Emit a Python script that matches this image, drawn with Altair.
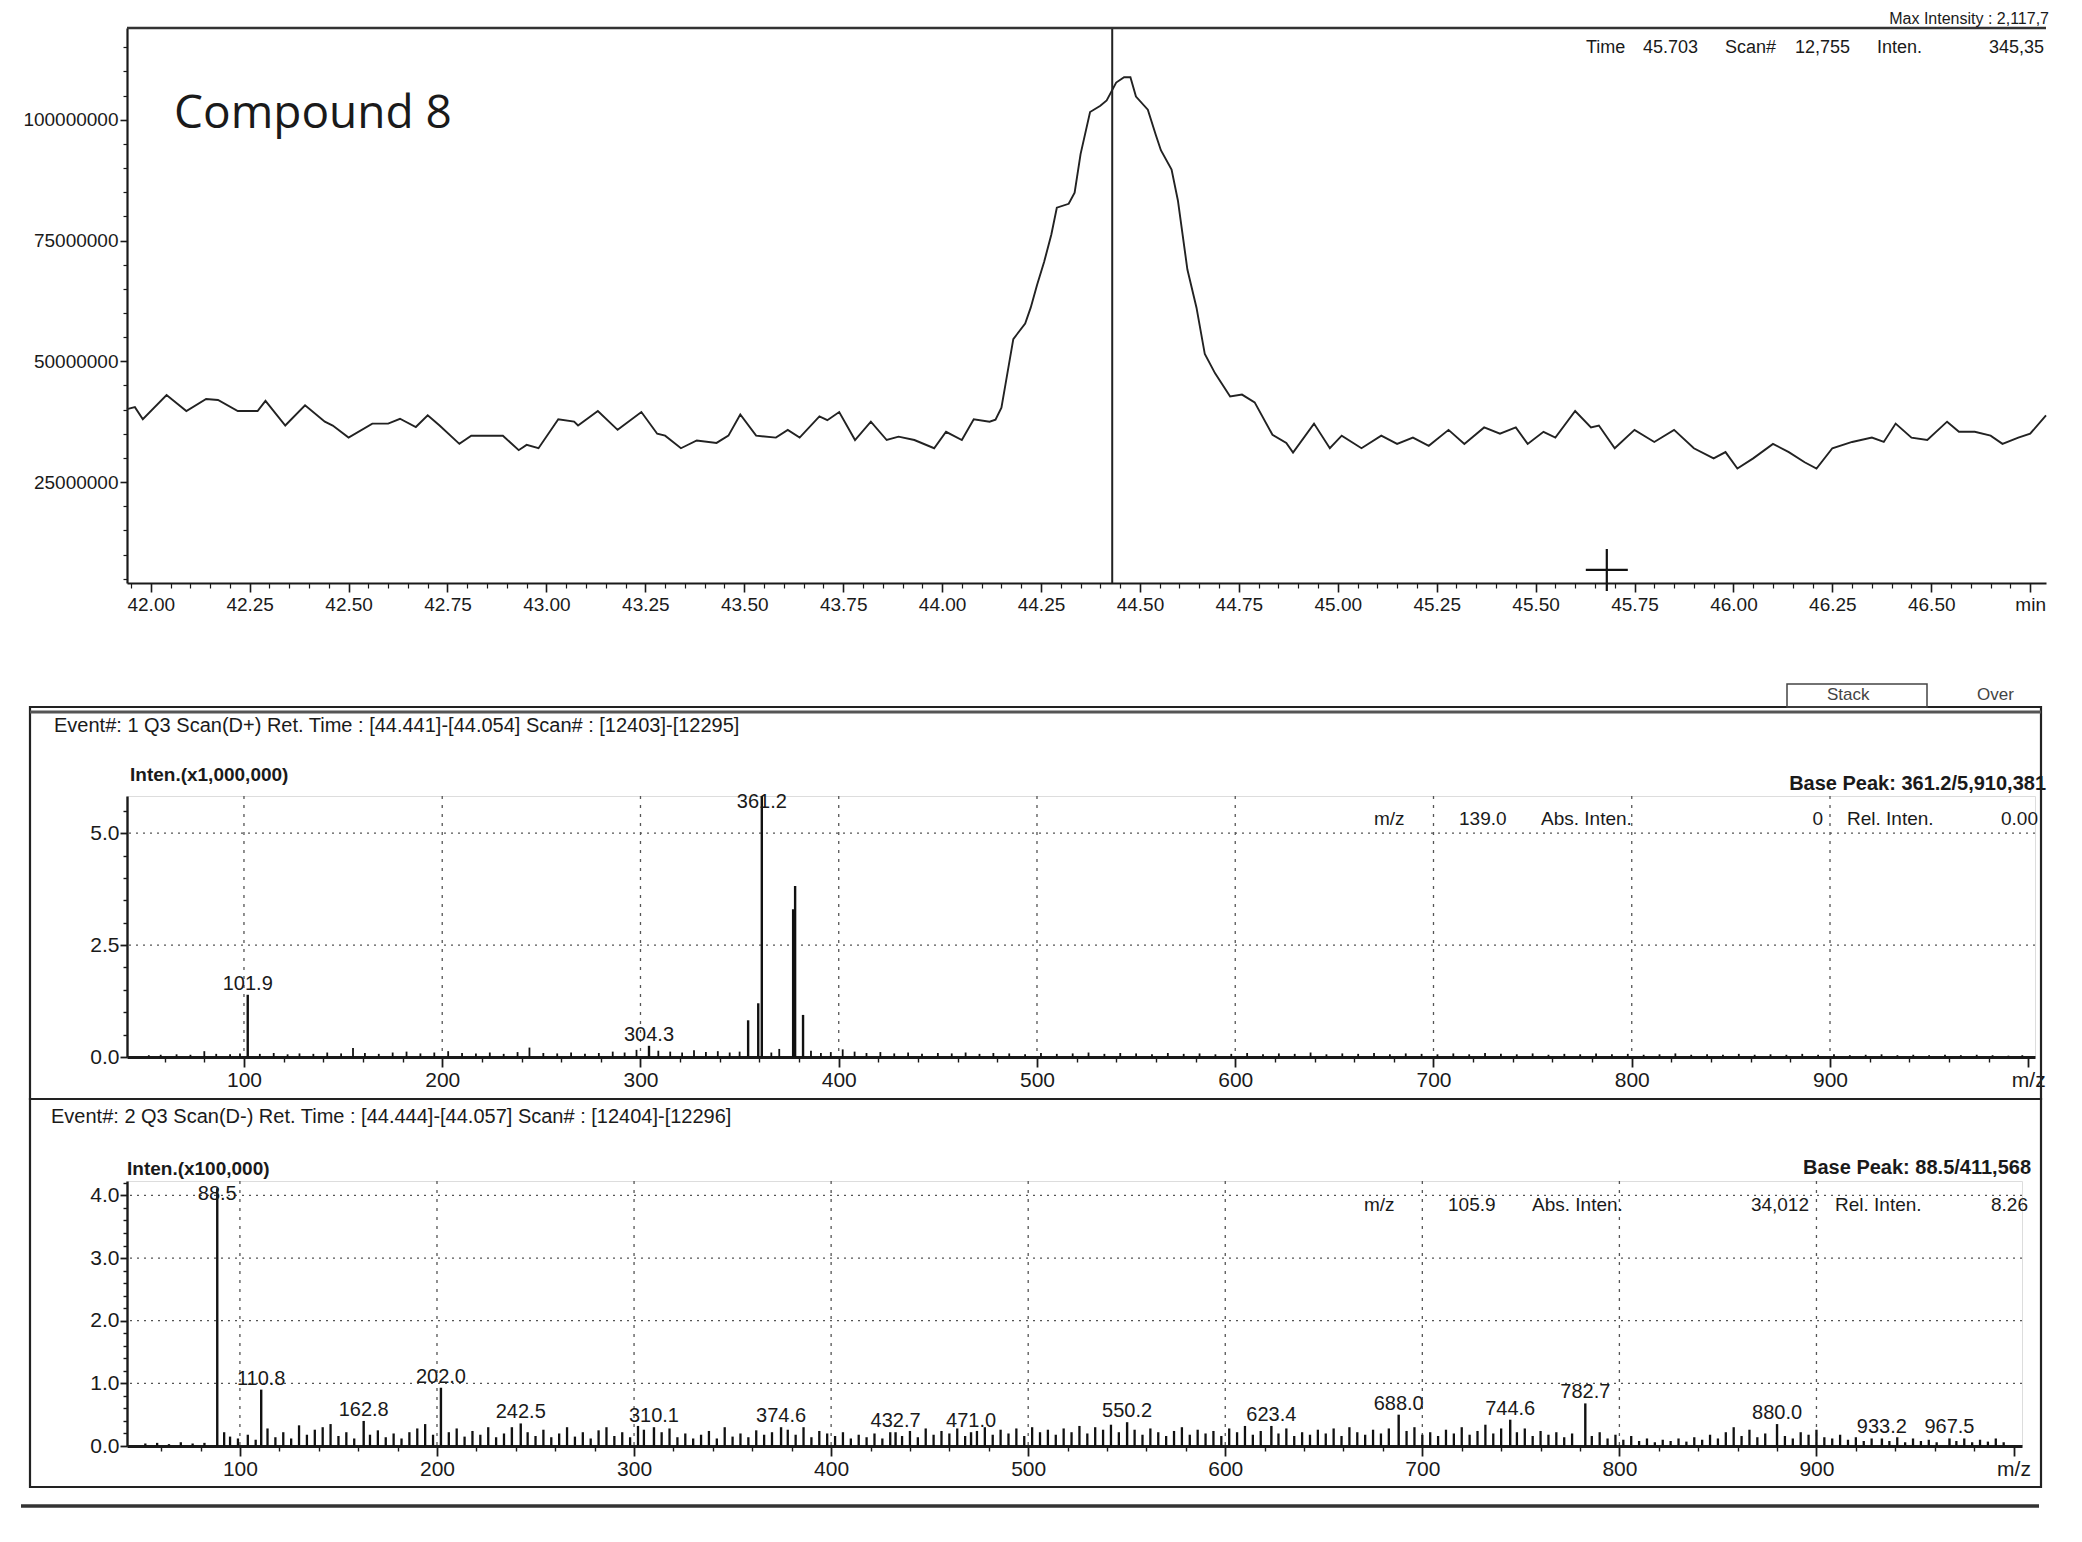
import altair as alt
import pandas as pd

FONT = "Liberation Sans"
INK = "#1a1a1a"

# ---------------- Panel 1: chromatogram ----------------
chrom_time = [41.94, 41.96, 41.98, 42.04, 42.09, 42.14, 42.17, 42.22, 42.27, 42.29, 42.34, 42.39, 42.44, 42.46,
              42.50, 42.56, 42.60, 42.63, 42.67, 42.70, 42.73, 42.78, 42.81, 42.89, 42.93, 42.95, 42.98, 43.03,
              43.07, 43.08, 43.13, 43.18, 43.24, 43.28, 43.30, 43.34, 43.38, 43.43, 43.46, 43.49, 43.53, 43.58,
              43.61, 43.64, 43.69, 43.71, 43.74, 43.78, 43.82, 43.86, 43.89, 43.93, 43.98, 44.01, 44.05, 44.08,
              44.12, 44.135, 44.15, 44.16, 44.18, 44.21, 44.224, 44.24, 44.258, 44.276, 44.29, 44.32, 44.335,
              44.35, 44.374, 44.40, 44.416, 44.44, 44.46, 44.476, 44.49, 44.52, 44.54, 44.553, 44.58, 44.596,
              44.62, 44.643, 44.664, 44.69, 44.728, 44.758, 44.79, 44.835, 44.87, 44.887, 44.94, 44.98, 45.01,
              45.06, 45.11, 45.15, 45.19, 45.23, 45.28, 45.32, 45.37, 45.41, 45.45, 45.48, 45.52, 45.55, 45.60,
              45.64, 45.66, 45.70, 45.75, 45.80, 45.85, 45.90, 45.95, 45.98, 46.01, 46.05, 46.10, 46.14, 46.18,
              46.21, 46.25, 46.30, 46.35, 46.38, 46.41, 46.45, 46.49, 46.54, 46.57, 46.61, 46.65, 46.68, 46.72,
              46.75, 46.79]
chrom_inten_m = [40.1, 40.5, 38.0, 43.0, 39.7, 42.2, 42.0, 39.7, 39.7, 41.8, 36.7, 40.9, 37.5, 36.7,
                 34.2, 37.1, 37.1, 38.1, 36.4, 38.8, 36.7, 32.9, 34.6, 34.6, 31.6, 32.7, 32.0, 38.0,
                 37.5, 36.7, 39.7, 35.8, 39.5, 35.0, 34.6, 32.0, 33.6, 33.1, 34.6, 39.0, 34.6, 34.2,
                 35.8, 34.2, 38.6, 37.8, 39.5, 33.7, 37.5, 33.7, 34.4, 33.7, 32.0, 35.4, 33.7, 38.0,
                 37.5, 37.9, 40.4, 45.1, 54.6, 57.8, 61.1, 65.8, 70.6, 76.2, 81.8, 82.6, 84.9,
                 92.9, 101.6, 102.9, 104.0, 107.7, 108.8, 108.8, 104.8, 102.1, 96.9, 93.7, 89.7, 83.3,
                 69.0, 61.1, 51.5, 47.5, 42.7, 43.1, 41.5, 34.8, 33.1, 31.1, 37.1, 32.0, 34.6,
                 32.0, 34.6, 32.9, 34.2, 32.5, 35.8, 32.9, 36.3, 35.0, 36.3, 32.9, 35.4, 34.2, 39.7,
                 36.3, 36.7, 32.0, 35.8, 33.3, 35.8, 32.0, 29.9, 31.2, 27.8, 29.9, 32.9, 31.2, 29.1,
                 27.8, 32.0, 33.3, 34.2, 33.3, 37.1, 34.2, 33.7, 37.5, 35.4, 35.4, 34.6, 32.9, 34.2,
                 35.0, 38.8]
chrom_xticks = [42.00, 42.25, 42.50, 42.75, 43.00, 43.25, 43.50, 43.75, 44.00, 44.25, 44.50, 44.75,
                45.00, 45.25, 45.50, 45.75, 46.00, 46.25, 46.50, 46.75]
chrom_yticks = [25000000, 50000000, 75000000, 100000000]
cursor_time = [44.43]
cross_time = [45.68]
cross_inten_m = [6.8]

# ---------------- Panel 2: Event 1, Q3 Scan (D+) ----------------
pos_peak_mz = [101.9, 304.3, 354.3, 359.4, 361.2, 377.0, 378.0, 382.0]
pos_peak_int = [1.39, 0.25, 0.82, 1.20, 5.91, 3.30, 3.82, 0.94]
pos_label_mz = [101.9, 304.3, 361.2]
pos_label_int = [1.39, 0.25, 5.91]
pos_label_txt = ["101.9", "304.3", "361.2"]
pos_noise = [(52, 0.04), (58, 0.05), (66, 0.06), (73, 0.05), (80, 0.13), (86, 0.07), (93, 0.06), (98, 0.08),
             (108, 0.07), (115, 0.09), (122, 0.06), (128, 0.08), (135, 0.07), (142, 0.10), (149, 0.08),
             (155, 0.20), (161, 0.09), (168, 0.07), (175, 0.10), (182, 0.12), (189, 0.08), (196, 0.10),
             (203, 0.13), (210, 0.09), (217, 0.08), (224, 0.10), (231, 0.07), (238, 0.11), (244, 0.21),
             (251, 0.09), (258, 0.08), (265, 0.10), (272, 0.07), (279, 0.09), (286, 0.12), (292, 0.10),
             (298, 0.16), (309, 0.14), (315, 0.12), (321, 0.10), (327, 0.15), (333, 0.11), (339, 0.13),
             (345, 0.10), (350, 0.12), (366, 0.10), (370, 0.18), (386, 0.14), (391, 0.09), (396, 0.11),
             (402, 0.17), (408, 0.12), (414, 0.09), (421, 0.11), (428, 0.08), (435, 0.10), (442, 0.07),
             (450, 0.09), (457, 0.08), (464, 0.10), (471, 0.07), (478, 0.09), (486, 0.08), (494, 0.06),
             (502, 0.09), (510, 0.07), (518, 0.08), (526, 0.10), (534, 0.07), (542, 0.09), (550, 0.08),
             (558, 0.06), (566, 0.09), (574, 0.07), (582, 0.08), (590, 0.06), (598, 0.07), (606, 0.09),
             (614, 0.06), (622, 0.08), (630, 0.07), (638, 0.10), (646, 0.06), (654, 0.08), (662, 0.07),
             (670, 0.09), (678, 0.06), (686, 0.08), (694, 0.07), (702, 0.06), (710, 0.08), (718, 0.06),
             (726, 0.09), (734, 0.07), (742, 0.06), (750, 0.08), (758, 0.05), (766, 0.07), (774, 0.06),
             (782, 0.08), (790, 0.06), (798, 0.07), (806, 0.05), (814, 0.06), (822, 0.08), (830, 0.05),
             (838, 0.06), (846, 0.05), (854, 0.07), (862, 0.05), (870, 0.06), (878, 0.05), (886, 0.07),
             (894, 0.05), (902, 0.06), (910, 0.04), (918, 0.05), (926, 0.06), (934, 0.04), (942, 0.05),
             (950, 0.04), (958, 0.05), (966, 0.04), (974, 0.05), (982, 0.04), (990, 0.03), (997, 0.04)]
pos_xticks = [100, 200, 300, 400, 500, 600, 700, 800, 900, 1000]
pos_yticks = [0.0, 2.5, 5.0]
pos_grid_x = [100, 200, 300, 400, 500, 600, 700, 800, 900]
pos_grid_y = [2.5, 5.0]

# ---------------- Panel 3: Event 2, Q3 Scan (D-) ----------------
neg_peak_mz = [88.5, 110.8, 162.8, 202.0, 238.0, 242.5, 310.1, 374.6, 432.7, 471.0, 550.2, 623.4,
               688.0, 744.6, 782.7, 880.0, 933.2, 967.5]
neg_peak_int = [4.116, 0.90, 0.40, 0.93, 0.30, 0.36, 0.30, 0.30, 0.22, 0.22, 0.38, 0.32,
                0.50, 0.42, 0.68, 0.35, 0.12, 0.12]
neg_label_mz = [88.5, 110.8, 162.8, 202.0, 242.5, 310.1, 374.6, 432.7, 471.0, 550.2, 623.4,
                688.0, 744.6, 782.7, 880.0, 933.2, 967.5]
neg_label_int = [4.116, 0.90, 0.40, 0.93, 0.36, 0.30, 0.30, 0.22, 0.22, 0.38, 0.32,
                 0.50, 0.42, 0.68, 0.35, 0.12, 0.12]
neg_label_txt = ["88.5", "110.8", "162.8", "202.0", "242.5", "310.1", "374.6", "432.7", "471.0",
                 "550.2", "623.4", "688.0", "744.6", "782.7", "880.0", "933.2", "967.5"]
neg_noise = [(52, 0.04), (58, 0.05), (64, 0.03), (70, 0.06), (76, 0.04), (82, 0.05), (92, 0.22), (95, 0.15),
             (99, 0.12), (104, 0.18), (108, 0.10), (114, 0.28), (118, 0.14), (122, 0.22), (126, 0.12),
             (130, 0.33), (134, 0.18), (138, 0.26), (142, 0.30), (146, 0.35), (150, 0.16), (154, 0.22),
             (158, 0.12), (166, 0.18), (170, 0.25), (174, 0.14), (178, 0.20), (182, 0.12), (186, 0.22),
             (190, 0.28), (194, 0.35), (198, 0.18), (206, 0.22), (210, 0.28), (214, 0.15), (218, 0.24),
             (222, 0.18), (226, 0.30), (230, 0.14), (234, 0.20), (246, 0.22), (250, 0.16), (254, 0.26),
             (258, 0.14), (262, 0.20), (266, 0.30), (270, 0.15), (274, 0.22), (278, 0.12), (282, 0.25),
             (286, 0.30), (290, 0.16), (294, 0.22), (298, 0.14), (302, 0.32), (305, 0.26), (314, 0.22),
             (318, 0.28), (322, 0.14), (326, 0.20), (330, 0.12), (334, 0.18), (338, 0.24), (342, 0.12),
             (346, 0.30), (350, 0.15), (354, 0.20), (358, 0.14), (362, 0.25), (366, 0.18), (370, 0.22),
             (378, 0.26), (382, 0.18), (386, 0.30), (390, 0.14), (394, 0.24), (398, 0.20), (402, 0.16),
             (406, 0.22), (410, 0.12), (414, 0.18), (418, 0.14), (422, 0.20), (426, 0.12), (430, 0.22),
             (436, 0.16), (440, 0.24), (444, 0.14), (448, 0.28), (452, 0.18), (456, 0.24), (460, 0.20),
             (464, 0.28), (468, 0.16), (474, 0.24), (478, 0.30), (482, 0.18), (486, 0.26), (490, 0.20),
             (494, 0.28), (498, 0.16), (502, 0.30), (506, 0.22), (510, 0.26), (514, 0.18), (518, 0.28),
             (522, 0.22), (526, 0.32), (530, 0.20), (534, 0.30), (538, 0.26), (542, 0.34), (546, 0.22),
             (554, 0.26), (558, 0.18), (562, 0.28), (566, 0.22), (570, 0.16), (574, 0.24), (578, 0.30),
             (582, 0.18), (586, 0.26), (590, 0.20), (594, 0.24), (598, 0.16), (602, 0.28), (606, 0.22),
             (610, 0.32), (614, 0.18), (618, 0.24), (627, 0.20), (631, 0.28), (635, 0.16), (639, 0.22),
             (643, 0.18), (647, 0.26), (651, 0.20), (655, 0.28), (659, 0.16), (663, 0.30), (667, 0.22),
             (671, 0.18), (675, 0.26), (679, 0.20), (683, 0.28), (692, 0.24), (696, 0.30), (700, 0.18),
             (704, 0.22), (708, 0.16), (712, 0.26), (716, 0.20), (720, 0.30), (724, 0.18), (728, 0.24),
             (732, 0.34), (736, 0.20), (740, 0.28), (748, 0.22), (752, 0.28), (756, 0.16), (760, 0.24),
             (764, 0.18), (768, 0.22), (772, 0.14), (776, 0.20), (786, 0.16), (790, 0.22), (794, 0.12),
             (798, 0.18), (802, 0.10), (806, 0.16), (810, 0.08), (814, 0.12), (818, 0.06), (822, 0.10),
             (826, 0.08), (830, 0.12), (834, 0.07), (838, 0.14), (842, 0.10), (846, 0.18), (850, 0.12),
             (854, 0.22), (858, 0.30), (862, 0.16), (866, 0.26), (870, 0.14), (874, 0.20), (884, 0.16),
             (888, 0.12), (892, 0.22), (896, 0.18), (900, 0.26), (904, 0.14), (908, 0.12), (912, 0.18),
             (916, 0.10), (920, 0.14), (924, 0.08), (928, 0.12), (937, 0.08), (941, 0.14), (945, 0.06),
             (949, 0.12), (953, 0.08), (957, 0.10), (961, 0.06), (971, 0.08), (975, 0.12), (979, 0.06),
             (983, 0.10), (987, 0.07), (991, 0.12), (995, 0.06)]
neg_xticks = [100, 200, 300, 400, 500, 600, 700, 800, 900, 1000]
neg_yticks = [0.0, 1.0, 2.0, 3.0, 4.0]
neg_grid_x = [100, 200, 300, 400, 500, 600, 700, 800, 900]
neg_grid_y = [1.0, 2.0, 3.0, 4.0]

# ---------------- helpers ----------------
ONE = pd.DataFrame({"k": [0]})


def txt(s, x, y, size=20, align="left", baseline="middle", weight="normal", font=FONT, color=INK):
    return alt.Chart(ONE).mark_text(text=s, align=align, baseline=baseline, fontSize=size,
                                    fontWeight=weight, font=font, color=color).encode(
        x=alt.value(x), y=alt.value(y))


def ax(**kw):
    base = dict(title=None, grid=False, labelFont=FONT, labelColor=INK, domainColor=INK, tickColor=INK,
                labelOverlap=False, labelFlush=False)
    base.update(kw)
    return alt.Axis(**base)


def hline(x1, x2, y, width=2.2, color="#222"):
    return alt.Chart(ONE).mark_rule(color=color, strokeWidth=width).encode(
        x=alt.value(x1), x2=alt.value(x2), y=alt.value(y))


# ---------------- panel 1 ----------------
W1, H1 = 1919, 555
xs1 = alt.Scale(domain=[41.94, 46.79], nice=False, zero=False)
ys1 = alt.Scale(domain=[4.1e6, 119e6], nice=False, zero=False)
chrom_df = pd.DataFrame({"t": chrom_time, "v": [v * 1e6 for v in chrom_inten_m]})
minor_x1 = [round(41.95 + 0.05 * i, 2) for i in range(97)]
minor_x1 = [m for m in minor_x1 if abs(m * 4 - round(m * 4)) > 1e-6]
minor_y1 = [5e6 * i for i in range(1, 24) if i % 5 != 0]

line1 = alt.Chart(chrom_df).mark_line(color="#222", strokeWidth=1.9).encode(
    x=alt.X("t:Q", scale=xs1, axis=ax(values=chrom_xticks, orient="bottom", tickSize=9, tickWidth=1.6,
                                      domainWidth=2.2, labelFontSize=19, labelPadding=3,
                                      labelExpr="datum.value > 46.7 ? 'min' : format(datum.value, '.2f')")),
    y=alt.Y("v:Q", scale=ys1, axis=ax(values=chrom_yticks, orient="left", format="d", tickSize=7,
                                      tickWidth=1.6, domainWidth=2.2, labelFontSize=19, labelPadding=2)))
minor1 = alt.Chart(chrom_df).mark_point(opacity=0).encode(
    x=alt.X("t:Q", scale=xs1, axis=ax(values=minor_x1, orient="bottom", labels=False, domain=False,
                                      tickSize=5, tickWidth=1.2)),
    y=alt.Y("v:Q", scale=ys1, axis=ax(values=minor_y1, orient="left", labels=False, domain=False,
                                      tickSize=4, tickWidth=1.2)))
cursor1 = alt.Chart(pd.DataFrame({"t": cursor_time})).mark_rule(color="#222", strokeWidth=2).encode(
    x=alt.X("t:Q", scale=xs1, axis=None))
cross1 = alt.Chart(pd.DataFrame({"t": cross_time, "v": [c * 1e6 for c in cross_inten_m]})).mark_point(
    shape="M-1,0L1,0M0,-1L0,1", size=1764, strokeWidth=2.2, color="#111", filled=False, opacity=1).encode(
    x=alt.X("t:Q", scale=xs1, axis=None), y=alt.Y("v:Q", scale=ys1, axis=None))

p1 = alt.layer(
    line1, minor1, cursor1, cross1, hline(0, W1, 0, width=2.5, color="#333"),
    txt("Compound 8", 47, 86, size=46, font="Open Sans"),
    txt("Max Intensity : 2,117,7", 1922, -1, size=16, align="right", baseline="bottom"),
    txt("Time", 1459, 20, size=18), txt("45.703", 1516, 20, size=18),
    txt("Scan#", 1598, 20, size=18), txt("12,755", 1668, 20, size=18),
    txt("Inten.", 1750, 20, size=18), txt("345,35", 1862, 20, size=18),
).resolve_axis(x="independent", y="independent").properties(
    width=W1, height=H1, view=alt.ViewBackground(strokeOpacity=0))


# ---------------- spectrum panel builder ----------------
def spectrum(W, H, xdom, ydom, peak_mz, peak_int, lab_mz, lab_int, lab_txt, label_cap, noise, noise_w,
             xticks, yticks, grid_x, grid_y, yfmt, minor_y, texts):
    xs = alt.Scale(domain=xdom, nice=False, zero=False)
    ys = alt.Scale(domain=ydom, nice=False, zero=False)
    noise_df = pd.DataFrame({"mz": [n[0] for n in noise], "i": [n[1] for n in noise]})
    peak_df = pd.DataFrame({"mz": peak_mz, "i": peak_int})
    lab_df = pd.DataFrame({"mz": lab_mz, "i": [min(v, label_cap) for v in lab_int], "s": lab_txt})
    minor_x = [v for v in range(60, 1000, 20) if v % 100 != 0]

    gx = alt.Chart(pd.DataFrame({"g": grid_x})).mark_rule(color="#555", strokeWidth=1.3, strokeDash=[3, 6]).encode(
        x=alt.X("g:Q", scale=xs, axis=None))
    gy = alt.Chart(pd.DataFrame({"g": grid_y})).mark_rule(color="#555", strokeWidth=1.3, strokeDash=[2, 5]).encode(
        y=alt.Y("g:Q", scale=ys, axis=None))
    nz = alt.Chart(noise_df).mark_rule(color="#111", strokeWidth=noise_w, clip=True).encode(
        x=alt.X("mz:Q", scale=xs, axis=ax(values=xticks, orient="bottom", tickSize=10, tickWidth=1.8,
                                          domainWidth=3.2, labelFontSize=21, labelPadding=2,
                                          labelExpr="datum.value >= 1000 ? 'm/z' : format(datum.value, 'd')")),
        y=alt.Y("i:Q", scale=ys, axis=ax(values=yticks, orient="left", format=yfmt, tickSize=7,
                                         tickWidth=1.8, domainWidth=2.4, labelFontSize=21, labelPadding=1)),
        y2=alt.datum(0))
    mn = alt.Chart(noise_df).mark_point(opacity=0).encode(
        x=alt.X("mz:Q", scale=xs, axis=ax(values=minor_x, orient="bottom", labels=False, domain=False,
                                          tickSize=5, tickWidth=1.4)),
        y=alt.Y("i:Q", scale=ys, axis=ax(values=minor_y, orient="left", labels=False, domain=False,
                                         tickSize=4, tickWidth=1.4)))
    pk = alt.Chart(peak_df).mark_rule(color="#111", strokeWidth=2.4, clip=True).encode(
        x=alt.X("mz:Q", scale=xs, axis=None), y=alt.Y("i:Q", scale=ys, axis=None), y2=alt.datum(0))
    lb = alt.Chart(lab_df).mark_text(font=FONT, fontSize=20, color=INK, baseline="bottom", dy=-1).encode(
        x=alt.X("mz:Q", scale=xs, axis=None), y=alt.Y("i:Q", scale=ys, axis=None), text="s:N")
    return alt.layer(gx, gy, nz, mn, pk, lb, *texts).resolve_axis(
        x="independent", y="independent").properties(width=W, height=H)


def frame(x1, x2, y1, y2):
    return alt.Chart(ONE).mark_rect(fillOpacity=0, stroke="#222", strokeWidth=2.2).encode(
        x=alt.value(x1), x2=alt.value(x2), y=alt.value(y1), y2=alt.value(y2))


W2, H2 = 1908, 261
p2 = spectrum(
    W2, H2, [41.0, 1003.4], [0, 5.83], pos_peak_mz, pos_peak_int, pos_label_mz, pos_label_int,
    pos_label_txt, 5.45, pos_noise, 1.8, pos_xticks, pos_yticks, pos_grid_x, pos_grid_y, ".1f",
    [0.5, 1.0, 1.5, 2.0, 3.0, 3.5, 4.0, 4.5, 5.5],
    [frame(-97, 1914, -89, 303),
     hline(-97, 1914, -84, width=3, color="#555"),
     txt("Event#: 1 Q3 Scan(D+)   Ret. Time : [44.441]-[44.054]   Scan# : [12403]-[12295]", -73, -70, size=20),
     txt("Inten.(x1,000,000)", 3, -21, size=19, weight="bold"),
     txt("Base Peak: 361.2/5,910,381", 1919, -2, size=20, align="right", baseline="bottom", weight="bold"),
     txt("m/z", 1247, 23, size=19), txt("139.0", 1332, 23, size=19), txt("Abs. Inten.", 1414, 23, size=19),
     txt("0", 1696, 23, size=19, align="right"), txt("Rel. Inten.", 1720, 23, size=19),
     txt("0.00", 1911, 23, size=19, align="right"),
     alt.Chart(ONE).mark_rect(fillOpacity=0, stroke="#444", strokeWidth=1.5).encode(
         x=alt.value(1660), x2=alt.value(1800), y=alt.value(-112), y2=alt.value(-89)),
     txt("Stack", 1700, -101, size=17, color="#444"),
     txt("Over", 1850, -101, size=17, color="#444")])

W3, H3 = 1895, 265
p3 = spectrum(
    W3, H3, [42.7, 1004.3], [0, 4.23], neg_peak_mz, neg_peak_int, neg_label_mz, neg_label_int,
    neg_label_txt, 3.85, neg_noise, 2.3, neg_xticks, neg_yticks, neg_grid_x, neg_grid_y, ".1f",
    [0.2, 0.4, 0.6, 0.8, 1.2, 1.4, 1.6, 1.8, 2.2, 2.4, 2.6, 2.8, 3.2, 3.4, 3.6, 3.8, 4.2],
    [frame(-97, 1914, -82, 306),
     hline(-106, 1912, 325, width=3.5, color="#333"),
     txt("Event#: 2 Q3 Scan(D-)   Ret. Time : [44.444]-[44.057]   Scan# : [12404]-[12296]", -76, -64, size=20),
     txt("Inten.(x100,000)", 0, -12, size=19, weight="bold"),
     txt("Base Peak: 88.5/411,568", 1904, -3, size=20, align="right", baseline="bottom", weight="bold"),
     txt("m/z", 1237, 24, size=19), txt("105.9", 1321, 24, size=19), txt("Abs. Inten.", 1405, 24, size=19),
     txt("34,012", 1682, 24, size=19, align="right"), txt("Rel. Inten.", 1708, 24, size=19),
     txt("8.26", 1901, 24, size=19, align="right")])

bottom = alt.vconcat(p2, p3, spacing=124, bounds="flush")
chart = alt.vconcat(p1, bottom, spacing=213, bounds="flush").properties(
    padding={"left": 10, "top": 3, "right": 4, "bottom": 4}
).configure_view(stroke="#222", strokeWidth=2).configure(background="white")

chart.save("out.html", embed_options={"renderer": "svg", "actions": False})
